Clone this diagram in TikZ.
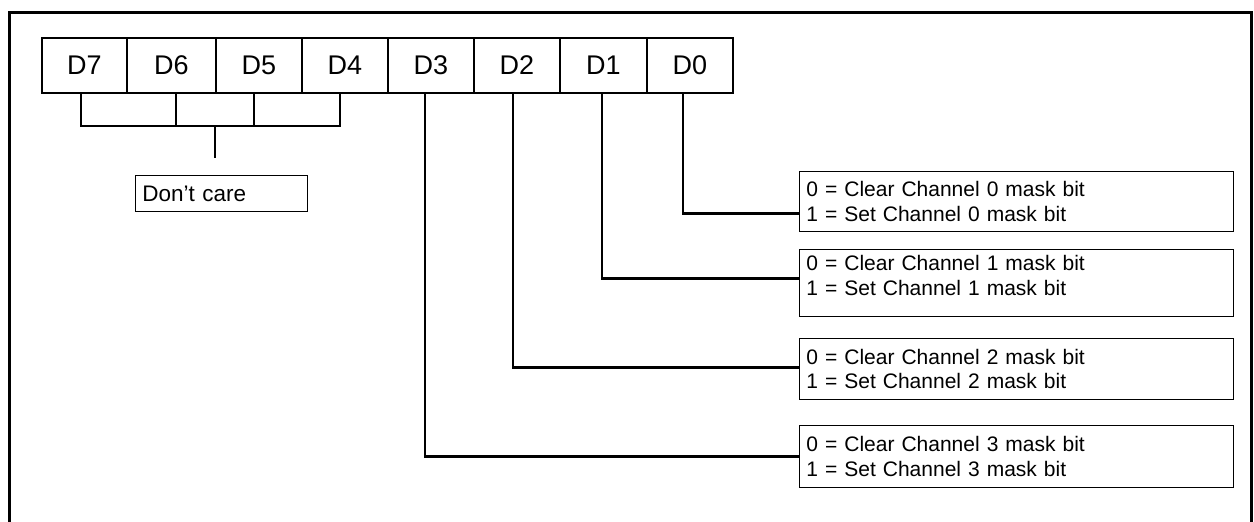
\documentclass[tikz,border=0pt]{standalone}
\usepackage{fontspec}
\setmainfont{Liberation Sans}
\begin{document}
\begin{tikzpicture}[x=1pt,y=-1pt,
  bitcell/.style={draw,line width=2.6pt,minimum height=55pt,inner sep=0pt,
    font=\fontsize{27}{30}\selectfont},
  chanbox/.style={draw,line width=0.9pt,minimum width=434pt,inner xsep=7pt,inner ysep=0pt,
    align=left,text width=420pt,anchor=north west,font=\fontsize{21}{24.3}\selectfont},
  conn/.style={line width=2.6pt,line cap=rect},
  frame/.style={line width=3pt}]
\useasboundingbox (0,0) rectangle (1254,522);
% outer frame (bottom edge outside picture)
\draw[frame] (9,522) -- (9,12) -- (1251,12) -- (1251,522);
% bit cells
\node[bitcell,minimum width=85pt] (d7) at (84.5,65.5) {D7};
\node[bitcell,minimum width=89pt] (d6) at (171.5,65.5) {D6};
\node[bitcell,minimum width=86pt] (d5) at (259,65.5) {D5};
\node[bitcell,minimum width=86pt] (d4) at (345,65.5) {D4};
\node[bitcell,minimum width=86pt] (d3) at (431,65.5) {D3};
\node[bitcell,minimum width=86pt] (d2) at (517,65.5) {D2};
\node[bitcell,minimum width=87pt] (d1) at (603.5,65.5) {D1};
\node[bitcell,minimum width=86pt] (d0) at (690,65.5) {D0};
% don't care bracket
\coordinate (brk) at (215,126);
\coordinate (stem) at (215,157);
\draw[conn] ([xshift=-3.5pt]d7.south) |- ([xshift=-5pt]d4.south |- brk) -- ([xshift=-5pt]d4.south);
\draw[conn] ([xshift=4.5pt]d6.south) -- ([xshift=4.5pt]d6.south |- brk);
\draw[conn] ([xshift=-5pt]d5.south) -- ([xshift=-5pt]d5.south |- brk);
\draw[conn] (brk) -- (stem);
\node[draw,line width=0.9pt,anchor=north west,minimum width=172pt,minimum height=36pt,
  inner xsep=6pt,text width=158pt,align=left,font=\fontsize{22.5}{25}\selectfont] (dc) at (135,175) {Don't care};
% channel boxes
\node[chanbox,minimum height=60pt] (c0) at (799,171) {0 = Clear Channel 0 mask bit\\1 = Set Channel 0 mask bit};
\node[chanbox,minimum height=67pt] (c1) at (799,249) {0 = Clear Channel 1 mask bit\\1 = Set Channel 1 mask bit\rule[-15pt]{0pt}{1pt}};
\node[chanbox,minimum height=61pt] (c2) at (799,338) {0 = Clear Channel 2 mask bit\\1 = Set Channel 2 mask bit};
\node[chanbox,minimum height=62pt] (c3) at (799,425) {0 = Clear Channel 3 mask bit\\1 = Set Channel 3 mask bit};
% connectors
\draw[conn] ([xshift=-7pt]d0.south) |- ([yshift=-12pt]c0.west);
\draw[conn] ([xshift=-1.5pt]d1.south) |- ([yshift=4.5pt]c1.west);
\draw[conn] ([xshift=-4pt]d2.south) |- ([yshift=1.5pt]c2.west);
\draw[conn] ([xshift=-6pt]d3.south) |- (c3.west);
\end{tikzpicture}
\end{document}
